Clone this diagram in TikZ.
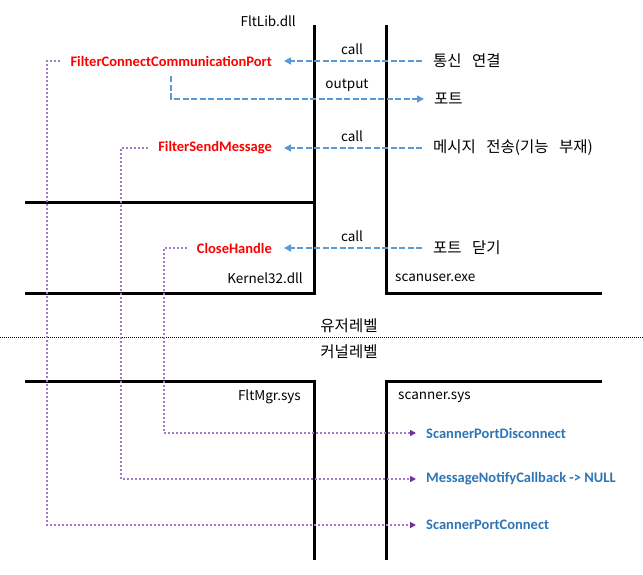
\documentclass[tikz,border=0pt]{standalone}
\usepackage{fontspec}
\setmainfont{Carlito}
\newfontfamily\korfont{Noto Sans CJK KR}
\newfontfamily\korwide[WordSpace=3]{Noto Sans CJK KR}
\usetikzlibrary{arrows.meta}
\definecolor{dashblue}{HTML}{5B9BD5}
\definecolor{txtblue}{HTML}{2E75B6}
\definecolor{dotpurple}{RGB}{160,120,205}
\definecolor{tippurple}{HTML}{7030A0}

\begin{document}
\begin{tikzpicture}[x=1pt, y=-1pt, inner sep=0pt,
  wall/.style={line width=3pt},
  lbl/.style={font=\korfont\fontsize{13.5}{16}\selectfont},
  kor/.style={font=\korwide\fontsize{15.5}{18}\selectfont, anchor=west},
  fun/.style={font=\bfseries\fontsize{14.5}{17}\selectfont, text=red, anchor=east},
  cbk/.style={font=\bfseries\fontsize{14.5}{17}\selectfont, text=txtblue, anchor=west},
  callarrow/.style={dashblue, line width=1.5pt, dash pattern=on 6pt off 2.5pt,
                    -{Triangle[length=7pt, width=7pt]}, shorten <=11pt, shorten >=12pt},
  notify/.style={dotpurple, line width=2pt, dash pattern=on 2pt off 2pt,
                 -{Triangle[length=6pt, width=6pt, tippurple]}, shorten <=10pt, shorten >=10pt},
]
  \useasboundingbox (0,0) rectangle (643,575);

  % user / kernel boxes
  \draw[wall] (314,25) -- (314,293) -- (25,293);
  \draw[wall] (25,203) -- (314,203);
  \draw[wall] (386,25) -- (386,293) -- (602,293);
  \draw[wall] (25,381) -- (314,381) -- (314,560);
  \draw[wall] (386,560) -- (386,381) -- (602,381);
  \draw[line width=0.8pt, dash pattern=on 1pt off 1pt] (0,337) -- (643,337);

  \node[lbl, anchor=east] (fltlib) at (296,21) {FltLib.dll};
  \node[lbl, anchor=east] (kernel) at (303,278) {Kernel32.dll};
  \node[lbl, anchor=west] (scanuser) at (395,278) {scanuser.exe};
  \node[lbl, anchor=east] (fltmgr) at (301,397) {FltMgr.sys};
  \node[lbl, anchor=west] (scanner) at (398,397) {scanner.sys};
  \node[kor, anchor=center] (user) at (349,326) {유저레벨};
  \node[kor, anchor=center] (kern) at (349,352) {커널레벨};

  \foreach \xn/\xy/\xfun/\xkor in {%
    1/61/FilterConnectCommunicationPort/{통신 연결},%
    2/148/FilterSendMessage/{메시지 전송(기능 부재)},%
    3/248/CloseHandle/{포트 닫기}%
  } {
    \node[fun] (R\xn) at (272,\xy) {\xfun};
    \node[kor] (K\xn) at (433,\xy) {\xkor};
    \node[lbl] (T\xn) at (352,\xy-12) {call};
    \draw[callarrow] (K\xn) -- (R\xn);
  }

  \node[kor] (port) at (434,99) {포트};
  \node[lbl] (out) at (347,85) {output};
  \draw[callarrow, shorten <=10pt, shorten >=10pt] (R1.south) |- (port);

  \foreach \xn/\xy/\xcx/\xcb in {%
    1/525/47/ScannerPortConnect,%
    2/479/121/{MessageNotifyCallback -> NULL},%
    3/433/164/ScannerPortDisconnect%
  } {
    \node[cbk] (B\xn) at (426,\xy) {\xcb};
    \coordinate (C\xn) at (\xcx,\xy);
    \draw[notify] (R\xn) -| (C\xn) -- (B\xn);
  }
\end{tikzpicture}
\end{document}
